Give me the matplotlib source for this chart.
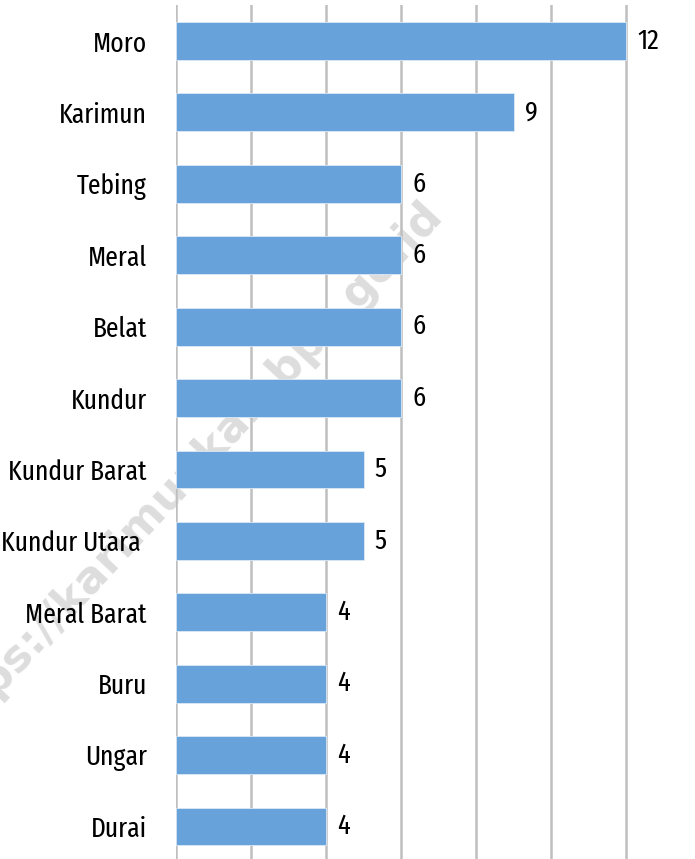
import matplotlib
matplotlib.use('Agg')
import matplotlib.pyplot as plt

# districts, top to bottom
districts = ['Moro', 'Karimun', 'Tebing', 'Meral', 'Belat', 'Kundur',
             'Kundur Barat', 'Kundur Utara ', 'Meral Barat', 'Buru', 'Ungar', 'Durai']
counts = [12, 9, 6, 6, 6, 6, 5, 5, 4, 4, 4, 4]
grid_ticks = [0, 2, 4, 6, 8, 10, 12, 14]

label_font = ['Fira Sans Extra Condensed', 'DejaVu Sans']

fig = plt.figure(figsize=(6.95, 8.59), dpi=100)
W, H = 695, 859
x0, x1 = 176, 695
y_top, y_bot = 5, 859
ax = fig.add_axes([x0 / W, 0, (x1 - x0) / W, (y_bot - y_top) / H])
ax.patch.set_visible(False)

unit = 37.5
ax.set_xlim(0, (x1 - x0) / unit)
ypos = list(range(len(districts)))
ax.set_ylim(len(districts) - 1 + 0.455, -0.504)

ax.barh(ypos, counts, height=0.53, color='#67a3da', edgecolor='#dbe8f5',
        linewidth=0.6, zorder=3)

for t in grid_ticks:
    ax.axvline(t, color='#bfbfbf', linewidth=1.8, zorder=2)

for y, v in zip(ypos, counts):
    ax.text(v + 0.3, y, str(v), va='center', ha='left', fontsize=20.5,
            family=label_font, color='black', zorder=4)

ax.set_yticks(ypos)
ax.set_yticklabels(districts, fontsize=20, family=label_font)
ax.tick_params(axis='y', length=0, pad=21)
ax.set_xticks([])
for s in ax.spines.values():
    s.set_visible(False)

# watermark, behind the bars
ax.text(185 / W, 1 - 475 / H, 'https://karimunkab.bps.go.id', rotation=47,
        transform=fig.transFigure, ha='center', va='center', fontsize=32,
        fontweight='bold', color='#dddddd', zorder=1, clip_on=False)

fig.savefig('out.png', dpi=100)
